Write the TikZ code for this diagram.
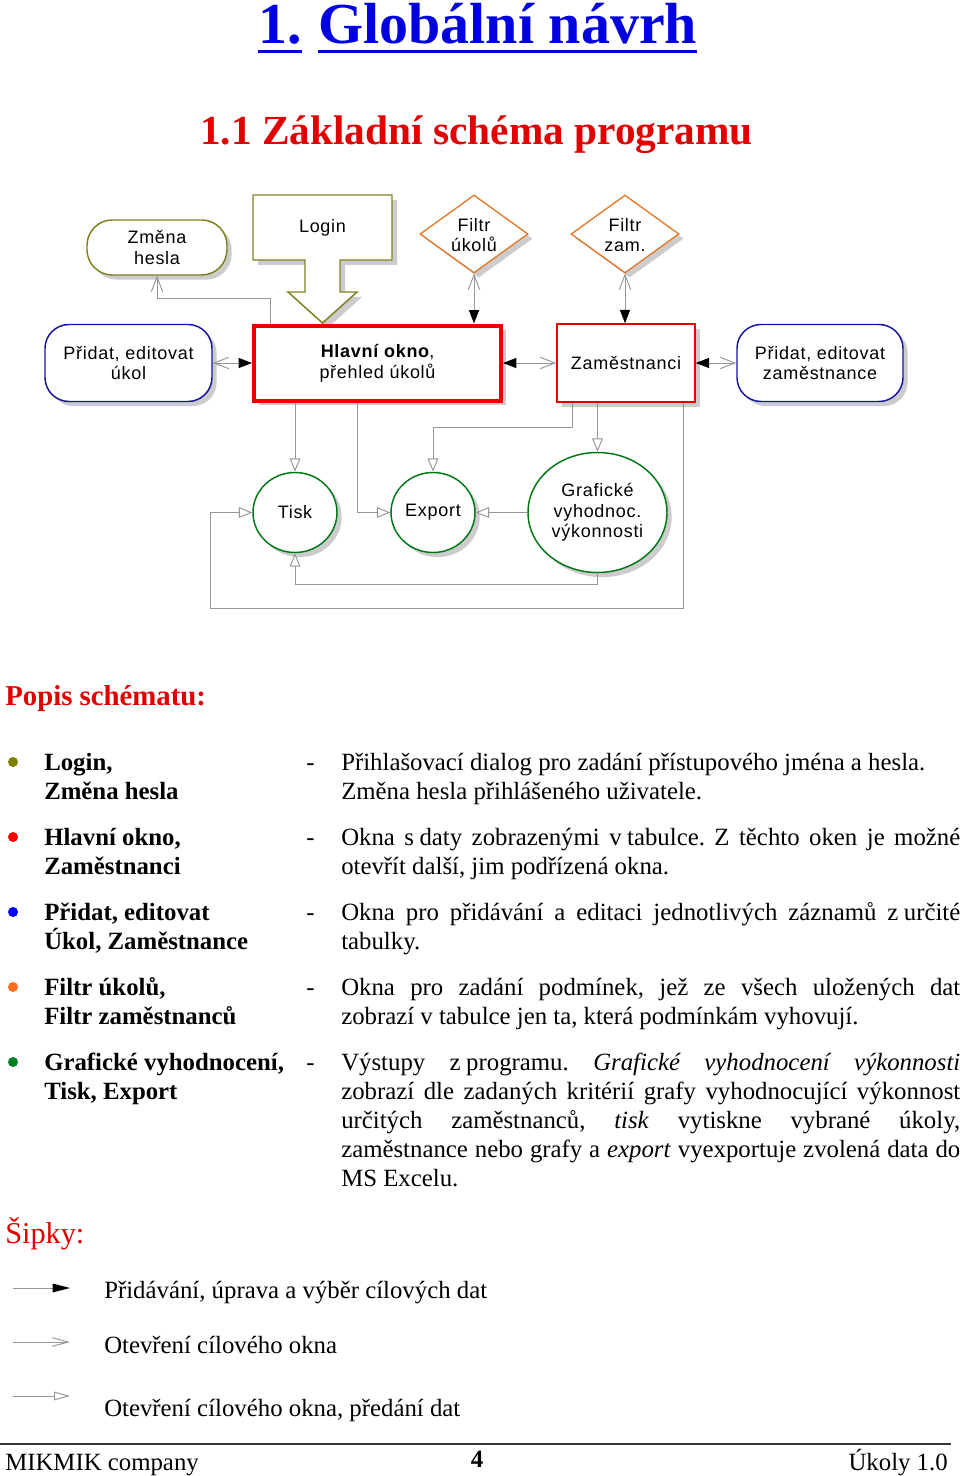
\documentclass[tikz,border=0pt]{standalone}
\usepackage{fontspec}
\setmainfont{Liberation Serif}
\newfontfamily\arialf[LetterSpace=4]{Liberation Sans}
\usetikzlibrary{arrows.meta,shapes.geometric,shadows}
\frenchspacing
\definecolor{olivec}{RGB}{128,128,32}
\definecolor{orangec}{RGB}{228,120,40}
\definecolor{bluec}{RGB}{20,20,160}
\definecolor{redc}{RGB}{235,0,0}
\definecolor{greenc}{RGB}{0,120,20}
\definecolor{linec}{RGB}{150,150,150}
\definecolor{titleblue}{RGB}{0,0,225}
\definecolor{headred}{RGB}{225,0,0}
\definecolor{dotolive}{RGB}{128,128,0}
\definecolor{dotorange}{RGB}{255,110,30}
\definecolor{dotgreen}{RGB}{0,128,30}
\newcommand\nb{\hspace{0.22em}}
\newcommand\dgf{\arialf\fontsize{13.5pt}{15.5pt}\selectfont}
\newcommand\bodyf{\fontsize{18.6pt}{21.75pt}\selectfont}
\tikzset{
  shad/.style={drop shadow={shadow xshift=3.5pt, shadow yshift=-3.5pt, opacity=1, fill=black!20}},
  dbox/.style={draw, fill=white, font=\dgf, align=center, inner sep=0pt, shad},
  conn/.style={draw=linec, line width=0.7pt},
  blkT/.tip={Triangle[length=10pt,width=7.5pt,color=black]},
  barbT/.tip={Straight Barb[length=11pt,width=8.5pt]},
  triT/.tip={Triangle[open,length=10pt,width=8pt,fill=white]},
  txt/.style={anchor=base west, inner sep=0pt, font=\bodyf},
  lbl/.style={anchor=base west, inner sep=0pt, font=\bodyf\bfseries},
  bul/.style={circle, inner sep=0pt, minimum size=7.5pt},
}
\begin{document}
\begin{tikzpicture}[x=0.75pt,y=-0.75pt]
\useasboundingbox[fill=white] (0,0) rectangle (960,1476);

% titles
\node[anchor=base west, inner sep=0pt, text=titleblue, font=\fontsize{43.5pt}{50pt}\selectfont\bfseries] (tnum) at (258,44) {1.};
\node[anchor=base west, inner sep=0pt, text=titleblue, font=\fontsize{43.5pt}{50pt}\selectfont\bfseries] (ttxt) at (318,44) {Globální návrh};
\draw[titleblue, line width=2.4pt] ([yshift=-5.5pt]tnum.base west) -- ([yshift=-5.5pt]tnum.base east);
\draw[titleblue, line width=2.4pt] ([yshift=-5.5pt]ttxt.base west) -- ([yshift=-5.5pt]ttxt.base east);
\node[anchor=base, inner sep=0pt, text=headred, font=\fontsize{31pt}{36pt}\selectfont\bfseries] (sub) at (476.5,145) {1.1 Základní schéma programu};

% Login block arrow
\fill[black!20, shift={(5,5)}] (253,195) -- (392,195) -- (392,260) -- (340,260) -- (340,292) -- (357,292) -- (322.5,323) -- (288,292) -- (305,292) -- (305,260) -- (253,260) -- cycle;
\draw[olivec, line width=1.1pt, fill=white] (253,195) -- (392,195) -- (392,260) -- (340,260) -- (340,292) -- (357,292) -- (322.5,323) -- (288,292) -- (305,292) -- (305,260) -- (253,260) -- cycle;
\node[font=\dgf, inner sep=0pt] (login) at (322.5,227.5) {Login};

% top row
\node[dbox, draw=olivec, line width=1.1pt, rounded corners=19pt, minimum width=105pt, minimum height=41.25pt] (zm) at (157,247.5) {Změna\\hesla};
\node[diamond, draw=orangec, line width=1pt, fill=white, shad, minimum width=81pt, minimum height=58.5pt, inner sep=0pt] (fu) at (474,234) {};
\node[font=\dgf, align=center, inner sep=0pt] (fut) at (474,235) {Filtr\\úkolů};
\node[diamond, draw=orangec, line width=1pt, fill=white, shad, minimum width=81pt, minimum height=58.5pt, inner sep=0pt] (fz) at (625,234) {};
\node[font=\dgf, align=center, inner sep=0pt] (fzt) at (625,235) {Filtr\\zam.};

% middle row
\node[dbox, draw=bluec, line width=1.1pt, rounded corners=18pt, minimum width=125.25pt, minimum height=57.75pt] (pu) at (128.5,363) {Přidat, editovat\\úkol};
\node[dbox, draw=redc, line width=3pt, minimum width=185.25pt, minimum height=56.25pt] (hl) at (377.5,363) {\textbf{Hlavní okno},\\přehled úkolů};
\node[dbox, draw=redc, line width=1.1pt, minimum width=103.5pt, minimum height=58.5pt] (zam) at (626,363) {Zaměstnanci};
\node[dbox, draw=bluec, line width=1.1pt, rounded corners=18pt, minimum width=124.5pt, minimum height=57.75pt] (pz) at (820,363) {Přidat, editovat\\zaměstnance};

% bottom row
\node[dbox, ellipse, draw=greenc, line width=1.1pt, minimum width=63pt, minimum height=60pt] (tisk) at (295,512.5) {Tisk};
\node[dbox, ellipse, draw=greenc, line width=1.1pt, minimum width=63pt, minimum height=60pt] (exp) at (433,512.5) {Export};
\node[dbox, ellipse, draw=greenc, line width=1.1pt, minimum width=104.25pt, minimum height=90pt] (graf) at (597.5,512.5) {Grafické\\vyhodnoc.\\výkonnosti};

% connectors
\draw[conn, {barbT}-{blkT}] (pu.east) -- (hl.west);
\draw[conn, {blkT}-{barbT}] (hl.east) -- (zam.west);
\draw[conn, {blkT}-{barbT}] (zam.east) -- (pz.west);
\draw[conn, {barbT}-{blkT}] (fu.south) -- (fu.south |- hl.north);
\draw[conn, {barbT}-{blkT}] (fz.south) -- (fz.south |- zam.north);
\draw[conn, -{barbT}] (270,0 |- hl.north) -- (270,298) -| (zm.south);
\draw[conn, -{triT}] (tisk.north |- hl.south) -- (tisk.north);
\draw[conn, -{triT}] (357,0 |- hl.south) |- (exp.west);
\draw[conn, -{triT}] (572,0 |- zam.south) -- (572,427) -| (exp.north);
\draw[conn, -{triT}] (graf.north |- zam.south) -- (graf.north);
\draw[conn, -{triT}] (graf.west) -- (exp.east);
\draw[conn, -{triT}] (graf.south) -- ++(0,11) -| (tisk.south);
\draw[conn, -{triT}] (683,0 |- zam.south) |- (210,608) |- (tisk.west);

% description
\node[anchor=base west, inner sep=0pt, text=headred, font=\fontsize{21.6pt}{26pt}\selectfont\bfseries] (popis) at (5,705) {Popis schématu:};

\node[bul, fill=dotolive] (b1) at (13,762) {};
\node[bul, fill=red] (b2) at (13,837) {};
\node[bul, fill=blue] (b3) at (13,912) {};
\node[bul, fill=dotorange] (b4) at (13,987) {};
\node[bul, fill=dotgreen] (b5) at (13,1062) {};

\node[lbl] (l1a) at (44,770) {Login,};
\node[lbl] (l1b) at (44,799) {Změna hesla};
\node[lbl] (l2a) at (44,845) {Hlavní okno,};
\node[lbl] (l2b) at (44,874) {Zaměstnanci};
\node[lbl] (l3a) at (44,920) {Přidat, editovat};
\node[lbl] (l3b) at (44,949) {Úkol, Zaměstnance};
\node[lbl] (l4a) at (44,995) {Filtr úkolů,};
\node[lbl] (l4b) at (44,1024) {Filtr zaměstnanců};
\node[lbl] (l5a) at (44,1070) {Grafické vyhodnocení,};
\node[lbl] (l5b) at (44,1099) {Tisk, Export};

\node[txt] (d1) at (306,770) {-};
\node[txt] (d2) at (306,845) {-};
\node[txt] (d3) at (306,920) {-};
\node[txt] (d4) at (306,995) {-};
\node[txt] (d5) at (306,1070) {-};

\node[txt] (r1a) at (341,770) {Přihlašovací dialog pro zadání přístupového jména a hesla.};
\node[txt] (r1b) at (341,799) {Změna hesla přihlášeného uživatele.};
\node[txt] (r2a) at (341,845) {\makebox[464.25pt][s]{Okna s\nb daty zobrazenými v\nb tabulce. Z těchto oken je možné}};
\node[txt] (r2b) at (341,874) {otevřít další, jim podřízená okna.};
\node[txt] (r3a) at (341,920) {\makebox[464.25pt][s]{Okna pro přidávání a editaci jednotlivých záznamů z\nb určité}};
\node[txt] (r3b) at (341,949) {tabulky.};
\node[txt] (r4a) at (341,995) {\makebox[464.25pt][s]{Okna pro zadání podmínek, jež ze všech uložených dat}};
\node[txt] (r4b) at (341,1024) {zobrazí v tabulce jen ta, která podmínkám vyhovují.};
\node[txt] (r5a) at (341,1070) {\makebox[464.25pt][s]{Výstupy z\nb programu. \textit{Grafické vyhodnocení výkonnosti}}};
\node[txt] (r5b) at (341,1099) {\makebox[464.25pt][s]{zobrazí dle zadaných kritérií grafy vyhodnocující výkonnost}};
\node[txt] (r5c) at (341,1128) {\makebox[464.25pt][s]{určitých zaměstnanců, \textit{tisk} vytiskne vybrané úkoly,}};
\node[txt] (r5d) at (341,1157) {\makebox[464.25pt][s]{zaměstnance nebo grafy a \textit{export} vyexportuje zvolená data do}};
\node[txt] (r5e) at (341,1186) {MS Excelu.};

% arrows legend
\node[anchor=base west, inner sep=0pt, text=headred, font=\fontsize{22.7pt}{26pt}\selectfont] (sipky) at (5,1243) {Šipky:};
\coordinate (a1s) at (13,1288);
\coordinate (a1e) at (70,1288);
\coordinate (a2s) at (13,1342);
\coordinate (a2e) at (70,1342);
\coordinate (a3s) at (13,1396);
\coordinate (a3e) at (70,1396);
\draw[conn, -{Triangle[length=13pt,width=6.5pt,color=black]}] (a1s) -- (a1e);
\draw[conn, -{Straight Barb[length=12pt,width=6.5pt]}] (a2s) -- (a2e);
\draw[conn, -{Triangle[open,length=12pt,width=6.5pt,fill=white]}] (a3s) -- (a3e);
\node[txt] (e1) at (104,1298) {Přidávání, úprava a výběr cílových dat};
\node[txt] (e2) at (104,1353) {Otevření cílového okna};
\node[txt] (e3) at (104,1416) {Otevření cílového okna, předání dat};

% footer
\coordinate (fl) at (0,1444);
\coordinate (fr) at (951,1444);
\draw[black!80, line width=1.1pt] (fl) -- (fr);
\node[txt] (f1) at (5,1470) {MIKMIK company};
\node[anchor=base, inner sep=0pt, font=\bodyf\bfseries] (f2) at (477,1467) {4};
\node[anchor=base east, inner sep=0pt, font=\bodyf] (f3) at (948,1470) {Úkoly 1.0};
\end{tikzpicture}
\end{document}
